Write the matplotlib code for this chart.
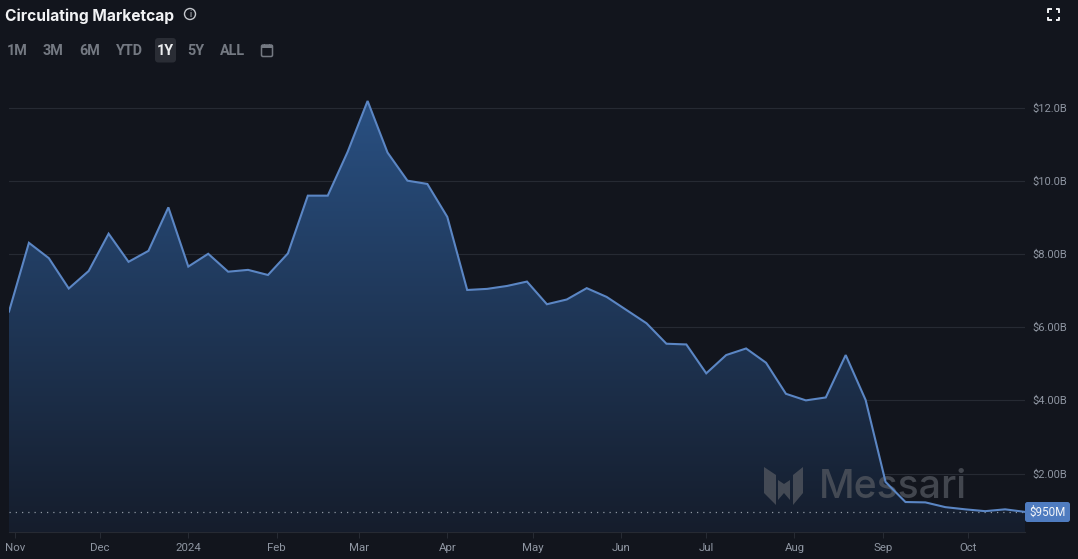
import numpy as np
import pandas as pd
import matplotlib
matplotlib.use("Agg")
import matplotlib.pyplot as plt
import matplotlib.dates as mdates
from matplotlib.patches import FancyBboxPatch, Polygon, Circle, Rectangle

plt.rcParams['font.family'] = ['Roboto', 'DejaVu Sans']

W, H = 1078, 559
BG = '#12151d'
LINE = '#5b86c4'

# market cap in $B, one value a week
dates = pd.date_range('2023-10-30', periods=52, freq='7D')
values = [6.43, 8.31, 7.89, 7.06, 7.54, 8.56, 7.79, 8.09, 9.28, 7.66, 8.01, 7.52, 7.57,
          7.43, 8.02, 9.60, 9.60, 10.80, 12.19, 10.78, 10.01, 9.92, 9.02, 7.02, 7.05, 7.13,
          7.25, 6.63, 6.76, 7.07, 6.83, 6.47, 6.11, 5.55, 5.53, 4.74, 5.24, 5.42, 5.03,
          4.18, 4.00, 4.08, 5.24, 4.01, 1.77, 1.22, 1.21, 1.08, 1.02, 0.97, 1.02, 0.95]
y_ticks = [2, 4, 6, 8, 10, 12]
y_labels = ['$2.00B', '$4.00B', '$6.00B', '$8.00B', '$10.0B', '$12.0B']
x_ticks = ['2023-11-01', '2023-12-01', '2024-01-01', '2024-02-01', '2024-03-01', '2024-04-01',
           '2024-05-01', '2024-06-01', '2024-07-01', '2024-08-01', '2024-09-01', '2024-10-01']
x_labels = ['Nov', 'Dec', '2024', 'Feb', 'Mar', 'Apr', 'May', 'Jun', 'Jul', 'Aug', 'Sep', 'Oct']
ranges = ['1M', '3M', '6M', 'YTD', '1Y', '5Y', 'ALL']
range_x = [17.5, 53, 90, 129.5, 165, 196, 232]
last_value = 0.95

fig = plt.figure(figsize=(W / 100, H / 100), dpi=100, facecolor=BG)

ax = fig.add_axes([9 / W, 1 - 532 / H, 1016 / W, 442 / H], facecolor=BG)

# overlay in pixel coordinates for the page furniture
ui = fig.add_axes([0, 0, 1, 1], facecolor='none')
ui.set_xlim(0, W)
ui.set_ylim(H, 0)
ui.axis('off')

for t in y_ticks:
    ax.axhline(t, color='#262a33', lw=0.8, zorder=1)

# gradient under the line
xn = mdates.date2num(dates)
fill = ax.fill_between(dates, values, 0.40, color='none', lw=0)
grad = np.linspace(0, 1, 256)[:, None, None]
top = np.array(matplotlib.colors.to_rgb('#295082'))
bottom = np.array(matplotlib.colors.to_rgb('#151d2c'))
img = ax.imshow(top + (bottom - top) * grad, extent=[xn[0], xn[-1], 0.40, 12.19], aspect='auto', zorder=2)
img.set_clip_path(fill.get_paths()[0], transform=ax.transData)
ax.set_xlim(dates[0], dates[-1])
ax.set_ylim(0.40, 12.49)

# watermark sits above the fill but under the line
wm = '#565a62'
ax.text(819, 487, 'Messari', fontsize=28.2, fontfamily='Inter', fontweight='medium', color=wm, va='center',
        alpha=0.72, zorder=3, transform=ui.transData, clip_on=False)
logo_parts = [[[764, 467], [776, 475], [776, 505], [764, 493]],
              [[803, 467], [793, 475], [793, 505], [803, 493]],
              [[778, 480], [784, 484], [790, 480], [790, 500], [784, 493], [778, 500]]]
for part in logo_parts:
    ax.add_patch(Polygon(part, fc=wm, ec='none', alpha=0.72, zorder=3, transform=ui.transData, clip_on=False))

ax.plot(dates, values, color=LINE, lw=1.5, zorder=4, solid_joinstyle='miter')
ax.axhline(last_value, color='#8f97a3', lw=0.9, ls=(0, (1, 4)), zorder=3)

for s in ['top', 'left', 'right']:
    ax.spines[s].set_visible(False)
ax.spines['bottom'].set_color('#262a33')
ax.spines['bottom'].set_linewidth(0.8)
ax.xaxis.tick_bottom()
ax.set_xticks(pd.to_datetime(x_ticks))
ax.set_xticklabels(x_labels, fontsize=8.2, color='#8f96a2')
ax.tick_params(axis='x', length=4, width=0.6, color='#2c3039', pad=4)
ax.yaxis.tick_right()
ax.set_yticks(y_ticks)
ax.set_yticklabels(y_labels, fontsize=8, color='#8f96a2')
ax.tick_params(axis='y', length=0, pad=5.5)

ui.text(5, 16, 'Circulating Marketcap', fontsize=11.2, fontfamily='Inter', fontweight='bold', color='#f1f2f4', va='center')
ui.add_patch(Circle((190, 14), 5.5, fill=False, ec='#c4c7cc', lw=1))
ui.text(190, 14.3, 'i', fontsize=6.5, color='#c4c7cc', ha='center', va='center')

ui.add_patch(FancyBboxPatch((155, 38), 21, 24.5, boxstyle='round,pad=0,rounding_size=3.5', fc='#2a2d35', ec='none'))
for name, x in zip(ranges, range_x):
    c = '#eceef0' if name == '1Y' else '#747982'
    ui.text(x, 51, name, fontsize=10.4, fontweight='bold', color=c, ha='center', va='center')

# calendar icon
ui.add_patch(FancyBboxPatch((261.5, 45), 11, 11.5, boxstyle='round,pad=0,rounding_size=1.5', fill=False, ec='#747982', lw=1.1))
ui.add_patch(Rectangle((261.5, 45), 11, 3, fc='#747982', ec='none'))
ui.add_patch(Rectangle((264, 43.5), 1.2, 2, fc='#747982', ec='none'))
ui.add_patch(Rectangle((269, 43.5), 1.2, 2, fc='#747982', ec='none'))

# expand icon
for cx, cy, sx, sy in [(1048, 9, 1, 1), (1059, 9, -1, 1), (1048, 20, 1, -1), (1059, 20, -1, -1)]:
    ui.plot([cx, cx, cx + 3.5 * sx], [cy + 3.5 * sy, cy, cy], color='#f1f2f4', lw=1.4, solid_capstyle='butt')

# last value tag
ui.add_patch(FancyBboxPatch((1025, 502), 45, 20, boxstyle='round,pad=0,rounding_size=2.5', fc='#4f7cc0', ec='none'))
ui.text(1047.5, 512, '$950M', fontsize=8.4, color='#f4f6f9', ha='center', va='center')

fig.savefig('out.png', dpi=100, facecolor=BG)
